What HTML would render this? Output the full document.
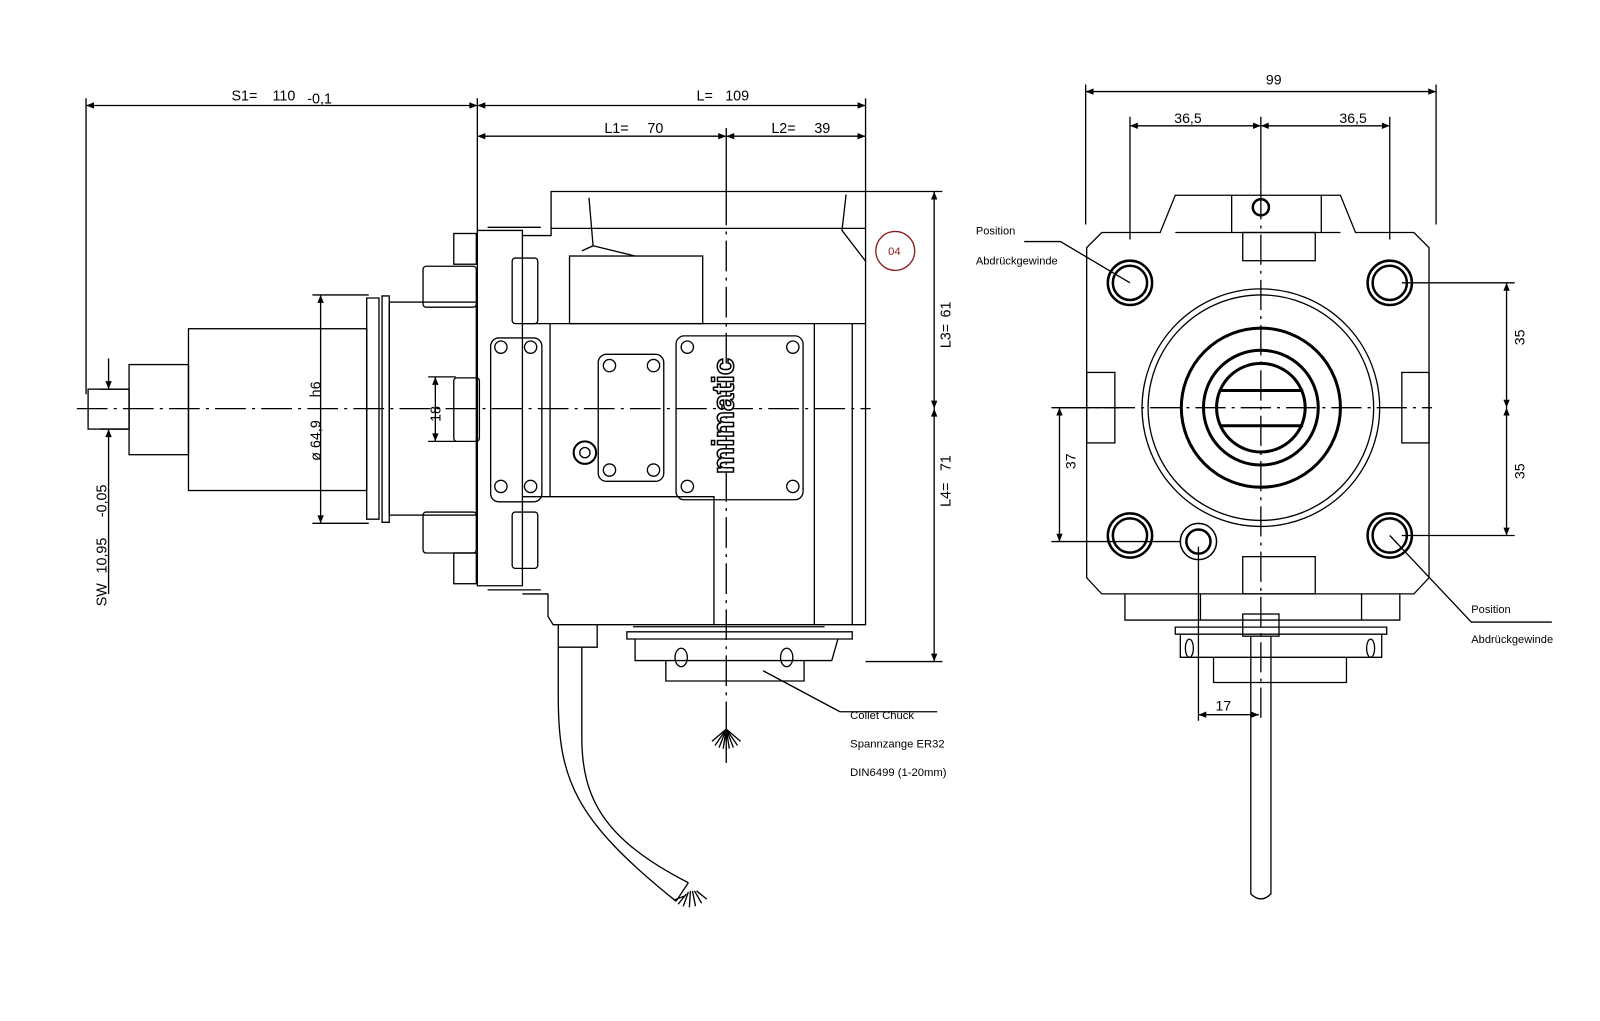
<!DOCTYPE html>
<html><head><style>body{margin:0;background:#fff}svg{display:block}text{font-family:"Liberation Sans",sans-serif;fill:#000}</style></head><body>
<svg width="1600" height="1021" viewBox="0 0 1562 997" preserveAspectRatio="none" xmlns="http://www.w3.org/2000/svg">
<defs><marker id="a" viewBox="0 0 10 10" refX="10" refY="5" markerWidth="10" markerHeight="6" orient="auto-start-reverse"><path d="M0,1 L10,5 L0,9z" fill="#000"/></marker></defs>
<g fill="none" stroke="#000" stroke-width="1.3">
<line x1="84" y1="96" x2="84" y2="385"/><line x1="466" y1="96" x2="466" y2="225"/><line x1="845" y1="96" x2="845" y2="187"/>
<line x1="84" y1="103" x2="466" y2="103" marker-start="url(#a)" marker-end="url(#a)"/>
<line x1="466" y1="103" x2="845" y2="103" marker-start="url(#a)" marker-end="url(#a)"/>
<line x1="466" y1="133" x2="709" y2="133" marker-start="url(#a)" marker-end="url(#a)"/>
<line x1="709" y1="133" x2="845" y2="133" marker-start="url(#a)" marker-end="url(#a)"/>
<line x1="709" y1="125" x2="709" y2="190"/>
<line x1="845" y1="187" x2="920" y2="187"/><line x1="845" y1="646" x2="920" y2="646"/>
<line x1="912" y1="187" x2="912" y2="399" marker-start="url(#a)" marker-end="url(#a)"/>
<line x1="912" y1="399" x2="912" y2="646" marker-start="url(#a)" marker-end="url(#a)"/>
<line x1="106" y1="350" x2="106" y2="380" marker-end="url(#a)"/><line x1="106" y1="580" x2="106" y2="419" marker-end="url(#a)"/>
<line x1="98" y1="380" x2="125" y2="380"/><line x1="98" y1="419" x2="125" y2="419"/>
<line x1="313" y1="288" x2="313" y2="511" marker-start="url(#a)" marker-end="url(#a)"/>
<line x1="305" y1="288" x2="360" y2="288"/><line x1="305" y1="511" x2="360" y2="511"/>
<line x1="425" y1="368" x2="425" y2="431" marker-start="url(#a)" marker-end="url(#a)"/>
<line x1="418" y1="368" x2="445" y2="368"/><line x1="418" y1="431" x2="445" y2="431"/>
<line x1="75" y1="399" x2="850" y2="399" stroke-dasharray="30,6,3,6"/>
<line x1="709" y1="190" x2="709" y2="745" stroke-dasharray="30,6,3,6"/>
<rect x="86" y="380" width="40" height="39"/><rect x="126" y="356" width="58" height="88"/>
<rect x="184" y="321" width="174" height="158"/>
<path d="M358,291 L370,291 L370,507 L358,507z M373,289 L380,289 L380,510 L373,510z"/>
<rect x="380" y="295" width="85" height="208"/>
<rect x="413" y="260" width="52" height="40" rx="3"/><rect x="413" y="500" width="52" height="40" rx="3"/>
<rect x="443" y="228" width="22" height="30"/><rect x="443" y="540" width="22" height="30"/>
<rect x="443" y="369" width="25" height="62" rx="3"/>
<path d="M466,225 L510,225 L510,572 L466,572z"/>
<path d="M476,222 h52 M476,576 h52"/>
<path d="M510,230 L538,230 L538,220 L538,187 L845,187 L845,610 L540,610 L535,602 L535,580 L510,580"/>
<line x1="538" y1="223" x2="845" y2="223"/>
<path d="M575,193 L579,240 L568,245 M579,240 L620,250 M826,190 L822,225 L845,255"/>
<rect x="556" y="250" width="130" height="66"/>
<rect x="500" y="252" width="25" height="64" rx="3"/>
<line x1="510" y1="316" x2="845" y2="316"/>
<line x1="537" y1="316" x2="537" y2="485"/>
<path d="M510,485 L697,485 L697,610"/>
<rect x="500" y="500" width="25" height="55" rx="3"/>
<line x1="795" y1="316" x2="795" y2="610"/><line x1="832" y1="316" x2="832" y2="610"/>
<rect x="479" y="330" width="50" height="160" rx="8"/>
<rect x="584" y="346" width="64" height="124" rx="8"/>
<rect x="660" y="328" width="124" height="160" rx="8"/>
<circle cx="489" cy="339" r="6"/><circle cx="518" cy="339" r="6"/><circle cx="489" cy="475" r="6"/><circle cx="518" cy="475" r="6"/>
<circle cx="595" cy="357" r="6"/><circle cx="638" cy="357" r="6"/><circle cx="595" cy="459" r="6"/><circle cx="638" cy="459" r="6"/>
<circle cx="671" cy="339" r="6"/><circle cx="774" cy="339" r="6"/><circle cx="671" cy="475" r="6"/><circle cx="774" cy="475" r="6"/>
<circle cx="571" cy="442" r="11" stroke-width="2"/><circle cx="571" cy="442" r="5"/>
<path d="M618,612 L805,612 M612,617 L832,617 L832,624 L612,624z M620,624 L620,645 L812,645 L818,624"/>
<ellipse cx="665" cy="642" rx="6" ry="9"/><ellipse cx="768" cy="642" rx="6" ry="9"/>
<path d="M650,645 L650,665 L785,665 L785,645"/>
<path d="M545,610 L545,632 L583,632 L583,610 M545,632 L545,680 M568,632 L568,720 M545,680 C545,760 560,800 660,880 M568,720 C568,780 590,820 672,862 M660,880 L672,862"/>
<path d="M668,875 l-10,4 M670,873 l-8,10 M672,871 l-5,14 M674,870 l-1,16 M676,870 l3,15 M678,870 l7,12 M680,870 l10,8" />
<path d="M709,712 l-14,12 M709,712 l-11,16 M709,712 l-7,18 M709,712 l-3,19 M709,712 l0,20 M709,712 l3,19 M709,712 l7,18 M709,712 l11,16 M709,712 l14,12"/>
<line x1="745" y1="655" x2="820" y2="695"/><line x1="820" y1="695" x2="915" y2="695"/>
<circle cx="874" cy="245" r="19" stroke="#8b1a1a"/>
</g>
<g transform="matrix(0.983 0 0 0.983 12 -2)">
<g fill="none" stroke="#000" stroke-width="1.3">
<line x1="1066" y1="86" x2="1066" y2="225"/><line x1="1414" y1="86" x2="1414" y2="225"/>
<line x1="1066" y1="93" x2="1414" y2="93" marker-start="url(#a)" marker-end="url(#a)"/>
<line x1="1110" y1="118" x2="1110" y2="240"/><line x1="1368" y1="118" x2="1368" y2="240"/>
<line x1="1240" y1="118" x2="1240" y2="190"/>
<line x1="1110" y1="127" x2="1240" y2="127" marker-start="url(#a)" marker-end="url(#a)"/>
<line x1="1240" y1="127" x2="1368" y2="127" marker-start="url(#a)" marker-end="url(#a)"/>
<line x1="1380" y1="283" x2="1492" y2="283"/><line x1="1380" y1="534" x2="1492" y2="534"/>
<line x1="1484" y1="283" x2="1484" y2="407" marker-start="url(#a)" marker-end="url(#a)"/>
<line x1="1484" y1="407" x2="1484" y2="534" marker-start="url(#a)" marker-end="url(#a)"/>
<line x1="1040" y1="407" x2="1040" y2="540" marker-start="url(#a)" marker-end="url(#a)"/>
<line x1="1032" y1="540" x2="1160" y2="540"/><line x1="1032" y1="407" x2="1100" y2="407"/>
<line x1="1178" y1="545" x2="1178" y2="718"/>
<line x1="1178" y1="712" x2="1238" y2="712" marker-start="url(#a)" marker-end="url(#a)"/>
<line x1="1040" y1="407" x2="1410" y2="407" stroke-dasharray="30,6,3,6"/>
<line x1="1240" y1="190" x2="1240" y2="720" stroke-dasharray="30,6,3,6"/>
<path d="M1082,233 L1140,233 L1155,196 L1319,196 L1334,233 L1392,233 L1407,248 L1407,576 L1392,592 L1082,592 L1067,576 L1067,248z"/>
<line x1="1155" y1="233" x2="1319" y2="233"/>
<line x1="1211" y1="196" x2="1211" y2="233"/><line x1="1300" y1="196" x2="1300" y2="233"/>
<rect x="1222" y="233" width="72" height="28"/><rect x="1222" y="555" width="72" height="37"/>
<rect x="1067" y="372" width="28" height="70"/><rect x="1380" y="372" width="27" height="70"/>
<circle cx="1240" cy="208" r="8" stroke-width="2.5"/>
<circle cx="1240" cy="407" r="118"/><circle cx="1240" cy="407" r="112"/>
<circle cx="1240" cy="407" r="79" stroke-width="3"/><circle cx="1240" cy="407" r="57" stroke-width="3"/>
<circle cx="1240" cy="407" r="44" stroke-width="3"/>
<line x1="1200" y1="390" x2="1282" y2="390" stroke-width="3"/><line x1="1200" y1="425" x2="1282" y2="425" stroke-width="3"/>
<g stroke-width="2.5">
<circle cx="1110" cy="283" r="22"/><circle cx="1110" cy="283" r="17"/>
<circle cx="1368" cy="283" r="22"/><circle cx="1368" cy="283" r="17"/>
<circle cx="1110" cy="534" r="22"/><circle cx="1110" cy="534" r="17"/>
<circle cx="1368" cy="534" r="22"/><circle cx="1368" cy="534" r="17"/>
<circle cx="1178" cy="540" r="18" stroke-width="1.5"/><circle cx="1178" cy="540" r="12"/>
</g>
<path d="M1005,242 L1041,242 L1110,283 M1368,534 L1449,620 L1529,620"/>
<path d="M1105,592 L1105,618 L1378,618 L1378,592 M1180,592 L1180,618 M1340,592 L1340,618"/>
<path d="M1155,625 L1365,625 L1365,632 L1155,632z M1160,632 L1160,655 L1360,655 L1360,632"/>
<ellipse cx="1169" cy="646" rx="4" ry="9"/><ellipse cx="1349" cy="646" rx="4" ry="9"/>
<path d="M1193,655 L1193,680 L1325,680 L1325,655"/>
<rect x="1222" y="612" width="36" height="22"/>
<path d="M1230,634 L1230,890 Q1240,900 1250,890 L1250,634"/>
</g>
<g font-size="14">
<text x="1245" y="86">99</text><text x="1154" y="124">36,5</text><text x="1318" y="124">36,5</text>
<text x="1195" y="708">17</text>
<text transform="translate(1502,345) rotate(-90)">35</text><text transform="translate(1502,478) rotate(-90)">35</text>
<text transform="translate(1056,468) rotate(-90)">37</text>
</g>
<g font-size="11">
<text x="957" y="235">Position</text><text x="957" y="265">Abdrückgewinde</text>
<text x="1449" y="611">Position</text><text x="1449" y="641">Abdrückgewinde</text>
</g>
</g>
<g font-size="14">
<text x="226" y="98">S1=</text><text x="266" y="98">110</text><text x="300" y="101">-0,1</text>
<text x="680" y="98">L=</text><text x="708" y="98">109</text>
<text x="590" y="130">L1=</text><text x="632" y="130">70</text>
<text x="753" y="130">L2=</text><text x="795" y="130">39</text>
<text transform="translate(928,310) rotate(-90)">61</text><text transform="translate(928,340) rotate(-90)">L3=</text>
<text transform="translate(928,460) rotate(-90)">71</text><text transform="translate(928,495) rotate(-90)">L4=</text>
<text transform="translate(313,388) rotate(-90)">h6</text><text transform="translate(313,450) rotate(-90)">ø 64,9</text>
<text transform="translate(430,412) rotate(-90)">18</text>
<text transform="translate(104,505) rotate(-90)">-0,05</text><text transform="translate(104,560) rotate(-90)">10,95</text><text transform="translate(104,592) rotate(-90)">SW</text>
</g>
<g font-size="11">
<text x="830" y="702">Collet Chuck</text><text x="830" y="730">Spannzange ER32</text><text x="830" y="758">DIN6499 (1-20mm)</text>
<text x="867" y="249" style="fill:#8b1a1a">04</text>
</g>
<text transform="translate(716,463) rotate(-90)" font-size="30" font-weight="bold" style="fill:#fff;stroke:#000;stroke-width:1.5">mimatic</text>
</svg>
</body></html>
